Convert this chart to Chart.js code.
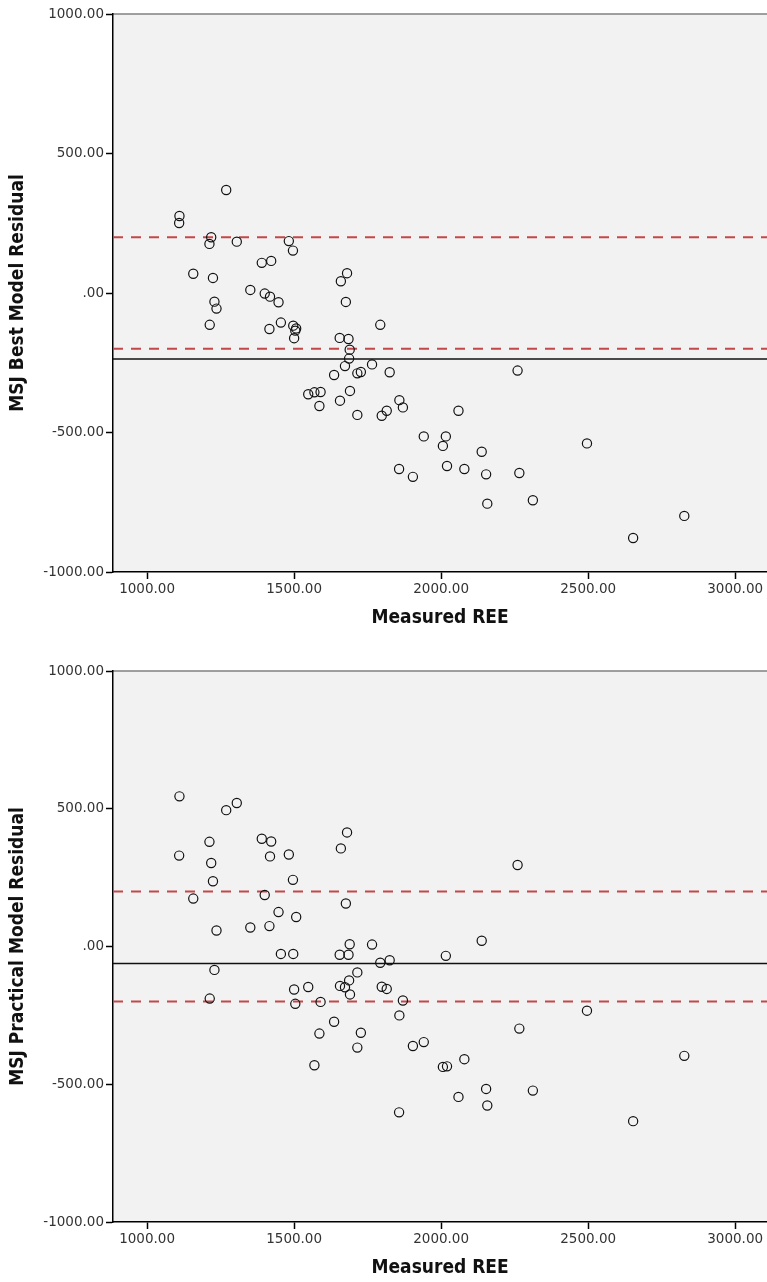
<!DOCTYPE html>
<html>
<head>
<meta charset="utf-8">
<script src="https://cdn.jsdelivr.net/npm/chart.js@4/dist/chart.umd.min.js"></script>
<style>
  body { margin: 0; background: #fff; overflow: hidden; }
  canvas { position: absolute; left: 0; }
</style>
</head>
<body>
<canvas id="best" width="773" height="641" style="top:0"></canvas>
<canvas id="practical" width="773" height="641" style="top:641px"></canvas>
<script>
// same subjects in both panels
const measuredREE = [1110, 1109, 1269, 1157, 1212, 1218, 1305, 1224, 1229, 1236,
    1213, 1351, 1390, 1422, 1400, 1418, 1447, 1416, 1455, 1482,
    1496, 1497, 1507, 1504, 1500, 1680, 1659, 1676, 1793, 1655,
    1685, 1689, 1687, 1673, 1765, 1636, 1715, 1727, 1825, 2260,
    1548, 1569, 1590, 1586, 1656, 1690, 1715, 1798, 1815, 1858,
    1870, 2059, 1941, 2016, 2006, 2138, 2496, 1857, 1904, 2020,
    2079, 2153, 2266, 2157, 2312, 2653, 2827];
const bestResidual = [276, 251, 369, 69, 176, 200, 184, 54, -31, -56,
    -114, 11, 108, 115, -2, -13, -33, -129, -106, 186,
    152, -117, -127, -135, -162, 71, 42, -32, -114, -161,
    -165, -203, -235, -262, -256, -294, -288, -283, -284, -278,
    -363, -356, -355, -405, -386, -351, -437, -440, -422, -384,
    -410, -422, -514, -514, -548, -569, -539, -631, -659, -620,
    -631, -650, -645, -755, -743, -878, -799];
const practicalResidual = [545, 330, 495, 174, 380, 303, 521, 237, -85, 58,
    -189, 69, 391, 381, 187, 327, 125, 74, -27, 334,
    242, -27, 107, -208, -156, 414, 356, 156, -59, -30,
    -30, 8, -123, -148, 7, -273, -94, -313, -50, 296,
    -147, -431, -201, -316, -143, -174, -367, -146, -154, -250,
    -196, -546, -347, -34, -437, 21, -233, -602, -361, -435,
    -409, -517, -298, -577, -523, -634, -397];

const bestMean = -237;
const practicalMean = -62;
const limitLines = [200, -200];
const xTicks = [1000, 1500, 2000, 2500, 3000];
const X_MIN = 884, X_MAX = 3109;

Chart.defaults.font.family = 'DejaVu Sans';
const titleFont = { family: "'DejaVu Sans Condensed'", size: 19, weight: 'bold' };

const plotFrame = {
    id: 'plotFrame',
    beforeDraw(chart) {
        const { ctx, chartArea: a } = chart;
        ctx.save();
        ctx.fillStyle = '#f2f2f2';
        ctx.fillRect(a.left, a.top, a.right - a.left, a.bottom - a.top);
        ctx.strokeStyle = '#808080';
        ctx.lineWidth = 1.5;
        ctx.beginPath();
        ctx.moveTo(a.left, a.top);
        ctx.lineTo(a.right, a.top);
        ctx.stroke();
        ctx.restore();
    }
};

function fmt(v) {
    let s = Math.abs(v).toFixed(2);
    if (Math.abs(v) < 1) s = s.slice(1);
    return (v < 0 ? '-' : '') + s;
}

function hline(y, color, dash, width) {
    return {
        type: 'line',
        data: [{ x: X_MIN, y: y }, { x: X_MAX, y: y }],
        borderColor: color,
        borderDash: dash,
        borderWidth: width,
        pointRadius: 0,
        fill: false
    };
}

function makeChart(id, resid, mean, yTitle, plotTop, xAxisH, titleBottom) {
    const ctx = document.getElementById(id).getContext('2d');
    return new Chart(ctx, {
        type: 'scatter',
        data: {
            datasets: [
                {
                    data: measuredREE.map((x, i) => ({ x: x, y: resid[i] })),
                    pointRadius: 4.6,
                    pointBorderWidth: 1.2,
                    borderColor: '#111',
                    backgroundColor: 'rgba(0,0,0,0)'
                },
                hline(limitLines[0], '#c4474a', [10, 8], 2),
                hline(limitLines[1], '#c4474a', [10, 8], 2),
                hline(mean, '#111', [], 1.5)
            ]
        },
        options: {
            responsive: false,
            animation: false,
            events: [],
            layout: { padding: { top: plotTop, left: 0, right: 0, bottom: 0 } },
            plugins: { legend: { display: false }, tooltip: { enabled: false } },
            scales: {
                x: {
                    type: 'linear',
                    min: X_MIN,
                    max: X_MAX,
                    afterBuildTicks: s => { s.ticks = xTicks.map(v => ({ value: v })); },
                    afterFit: s => { s.height = xAxisH; },
                    ticks: { callback: v => v.toFixed(2), color: '#333', font: { size: 13.5 }, padding: 2 },
                    grid: { drawOnChartArea: false, tickLength: 7, color: '#000', tickWidth: 1.5 },
                    border: { color: '#000', width: 1.5 },
                    title: {
                        display: true,
                        text: 'Measured REE',
                        color: '#111',
                        font: titleFont,
                        padding: { top: 0, bottom: titleBottom }
                    }
                },
                y: {
                    min: -1000,
                    max: 1000,
                    afterFit: s => { s.width = 113; },
                    ticks: { stepSize: 500, callback: v => fmt(v), color: '#333', font: { size: 13.5 }, padding: 2 },
                    grid: { drawOnChartArea: false, tickLength: 7, color: '#000', tickWidth: 1.5 },
                    border: { color: '#000', width: 1.5 },
                    title: {
                        display: true,
                        text: yTitle,
                        color: '#111',
                        font: titleFont,
                        padding: { top: 6.5, bottom: 0 }
                    }
                }
            }
        },
        plugins: [plotFrame]
    });
}

makeChart('best', bestResidual, bestMean, 'MSJ Best Model Residual', 14, 69, 11.5);
makeChart('practical', practicalResidual, practicalMean, 'MSJ Practical Model Residual', 30, 60, 2.5);
</script>
</body>
</html>
